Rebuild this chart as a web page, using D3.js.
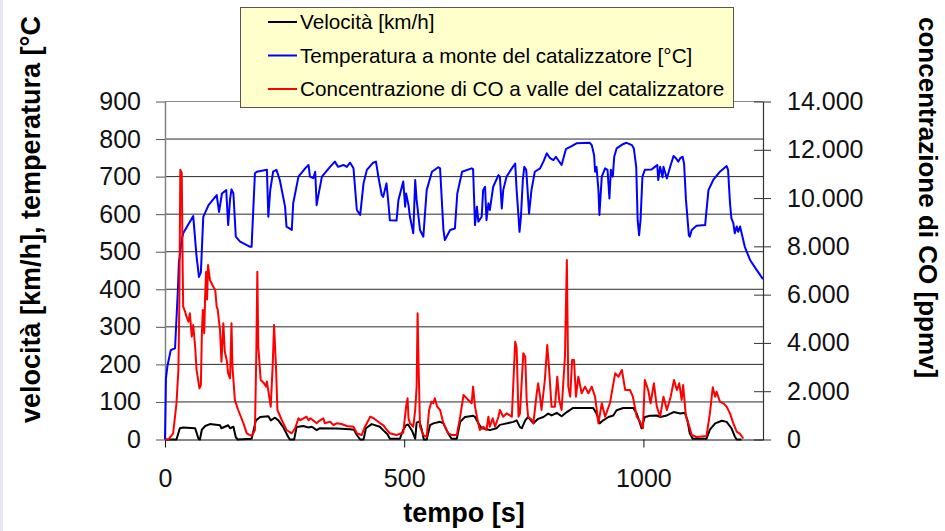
<!DOCTYPE html>
<html>
<head>
<meta charset="utf-8">
<script src="https://cdn.jsdelivr.net/npm/d3@7/dist/d3.min.js"></script>
<style>
  html, body { margin: 0; padding: 0; background: #ffffff; }
  svg { display: block; font-family: "Liberation Sans", Arial, sans-serif; }
</style>
</head>
<body>
<svg id="chart" width="945" height="531"></svg>
<script>
// Tick values
const xTicks = [0, 500, 1000];
const leftTicks = [0, 100, 200, 300, 400, 500, 600, 700, 800, 900];
const rightTicks = [0, 2000, 4000, 6000, 8000, 10000, 12000, 14000];

// Series names
const seriesNames = [
  "Velocità [km/h]",
  "Temperatura a monte del catalizzatore [°C]",
  "Concentrazione di CO a valle del catalizzatore"
];

// Speed [km/h] : [time s, value]
const speed = [
  [0,0],[24,0],[31,30],[38,32],[63,30],[70,2],[73,0],[77,26],[84,36],[94,41],[115,38],[118,30],
  [125,34],[132,38],[136,30],[143,34],[148,6],[152,0],[181,2],[190,51],[199,60],[216,62],[221,51],
  [230,58],[237,51],[247,33],[258,6],[261,0],[270,0],[275,33],[289,36],[300,32],[307,34],[317,25],
  [324,30],[359,29],[387,27],[395,26],[401,12],[408,0],[415,0],[420,30],[432,41],[449,34],[456,25],
  [465,14],[470,2],[491,2],[498,26],[504,38],[508,40],[516,24],[523,2],[526,45],[532,48],[537,25],
  [541,0],[547,0],[554,38],[561,43],[575,47],[582,43],[592,16],[599,2],[610,2],[617,47],[627,60],
  [638,62],[644,63],[648,60],[655,43],[662,30],[672,28],[679,25],[693,30],[700,39],[707,41],
  [718,44],[728,47],[735,51],[742,33],[746,30],[753,51],[759,60],[770,43],[780,55],[791,60],
  [801,69],[808,64],[819,71],[829,62],[840,73],[853,84],[895,84],[902,69],[909,43],[916,51],
  [927,60],[937,64],[944,78],[958,84],[979,84],[986,69],[993,43],[996,30],[1003,60],[1014,63],
  [1028,64],[1035,60],[1049,64],[1063,73],[1077,69],[1087,71],[1092,51],[1097,16],[1103,2],
  [1132,2],[1139,26],[1150,43],[1164,50],[1174,47],[1184,30],[1191,8],[1195,0],[1205,0]
];

// Temperature upstream of the catalyst [°C] : [time s, value]
const temperature = [
  [0,0],[2,163],[5,195],[12,238],[21,243],[27,400],[29,470],[35,532],[38,549],[59,595],[66,487],
  [71,433],[75,445],[80,593],[91,624],[108,651],[113,606],[119,655],[128,664],[132,571],[136,640],
  [139,666],[143,655],[148,540],[157,527],[178,513],[181,513],[188,709],[192,713],[213,718],
  [216,593],[220,664],[226,713],[233,718],[240,691],[251,620],[254,567],[265,558],[268,629],
  [279,700],[293,722],[300,731],[303,700],[310,696],[314,713],[317,624],[320,646],[328,700],
  [345,726],[355,740],[362,726],[373,731],[380,726],[387,737],[394,722],[401,611],[408,598],
  [415,682],[422,718],[435,737],[441,740],[446,700],[453,651],[456,646],[463,682],[467,629],
  [470,584],[484,583],[488,638],[498,687],[502,620],[504,655],[509,624],[512,593],[519,549],
  [523,691],[526,638],[533,558],[540,540],[547,664],[558,713],[571,725],[575,722],[582,558],
  [585,531],[596,558],[606,562],[611,655],[621,713],[641,722],[644,720],[648,571],[652,620],
  [655,580],[662,593],[665,664],[669,673],[672,584],[676,629],[679,611],[686,673],[697,704],
  [700,700],[704,615],[707,664],[714,700],[725,722],[732,735],[735,664],[739,593],[741,553],
  [744,593],[748,691],[751,726],[755,718],[757,682],[761,602],[766,664],[773,713],[784,722],
  [791,740],[798,762],[805,749],[812,744],[817,753],[829,731],[838,773],[850,781],[861,789],
  [888,790],[892,784],[897,757],[899,713],[902,726],[906,664],[908,598],[913,700],[920,722],
  [925,718],[929,642],[932,718],[936,700],[939,753],[944,775],[958,787],[965,790],[976,784],
  [980,775],[985,726],[988,584],[991,544],[994,584],[998,700],[1003,718],[1017,719],[1024,726],
  [1029,731],[1031,691],[1035,726],[1040,698],[1042,726],[1049,695],[1056,726],[1063,755],
  [1068,749],[1073,740],[1077,749],[1082,753],[1085,735],[1089,638],[1095,544],[1097,540],
  [1101,558],[1111,569],[1129,571],[1132,611],[1136,664],[1146,691],[1160,713],[1174,728],
  [1177,718],[1181,629],[1184,589],[1188,576],[1191,549],[1195,567],[1198,553],[1202,567],
  [1212,513],[1223,478],[1237,451],[1250,427]
];

// CO concentration downstream of the catalyst [ppmv] : [time s, value]
const co = [
  [0,0],[7,0],[17,256],[24,1500],[28,2880],[30,5640],[32,11170],[35,11050],[37,7000],[38,5500],
  [42,5293],[45,5087],[49,4880],[52,5227],[56,4258],[59,4743],[63,3844],[66,2879],[72,2120],
  [75,2257],[77,4328],[79,5364],[82,4398],[84,6000],[86,6950],[88,5800],[90,7228],[94,6600],
  [101,6330],[105,6192],[108,5500],[110,5400],[115,4535],[118,3223],[122,4813],[125,3637],
  [129,3293],[132,2742],[136,2534],[139,4813],[141,3016],[146,1636],[153,1222],[164,670],
  [171,256],[181,145],[188,393],[191,3707],[193,6950],[195,3844],[200,2465],[207,2328],
  [211,2190],[213,2400],[221,1360],[225,3016],[228,4743],[232,3016],[235,1222],[244,808],
  [254,393],[265,256],[272,464],[279,878],[283,800],[296,944],[300,800],[304,880],[317,670],
  [321,750],[331,878],[334,670],[345,740],[352,600],[359,670],[369,640],[380,559],[394,530],
  [401,256],[411,186],[418,530],[429,944],[436,880],[450,670],[456,600],[463,422],[470,256],
  [484,186],[498,282],[504,1360],[507,1706],[509,878],[512,670],[519,530],[523,1222],[526,2190],
  [528,5227],[530,3156],[533,530],[540,186],[547,104],[552,1222],[557,1566],[561,1500],
  [564,1706],[569,1360],[575,1222],[582,670],[592,256],[600,186],[610,186],[617,944],[624,1843],
  [634,1636],[641,1500],[644,2190],[648,1360],[652,944],[658,393],[665,530],[672,393],[676,944],
  [679,530],[685,878],[690,530],[697,944],[700,1222],[707,944],[714,1084],[725,944],[732,4051],
  [735,3800],[739,944],[742,1084],[749,3570],[753,3430],[756,1636],[759,944],[767,808],[770,670],
  [777,1913],[780,2328],[784,1773],[787,1222],[794,2465],[799,3914],[803,2879],[808,1360],
  [815,1360],[820,2601],[824,1636],[829,1222],[836,3430],[840,7435],[843,2190],[847,1773],
  [851,3293],[855,3293],[859,1773],[864,2601],[871,1913],[878,2190],[885,1913],[892,2190],
  [899,1773],[906,670],[913,1500],[920,944],[930,1500],[941,2742],[948,2601],[955,2879],
  [962,2050],[972,2050],[978,1773],[986,944],[993,740],[999,464],[1003,2465],[1010,2050],
  [1015,1500],[1022,2328],[1028,1360],[1035,944],[1042,1773],[1049,1222],[1057,1773],[1064,2465],
  [1070,2050],[1075,2328],[1080,1636],[1083,2257],[1089,944],[1094,670],[1101,186],[1111,104],
  [1132,145],[1139,1084],[1145,2162],[1150,1773],[1153,1977],[1160,1566],[1167,1500],[1174,1360],
  [1181,1084],[1188,670],[1195,325],[1202,230],[1209,41]
];

const colors = ["#000000", "#0000ff", "#ff0000"];

const svg = d3.select("#chart");

// Frame strip on the left edge
svg.append("rect").attr("x", 0).attr("y", 0).attr("width", 3).attr("height", 531)
  .attr("fill", "#e6e6f8");

const plot = { left: 165, right: 763, top: 101.5, bottom: 439.5 };

const x = d3.scaleLinear().domain([0, 1250]).range([plot.left, plot.right]);
const yL = d3.scaleLinear().domain([0, 900]).range([plot.bottom, plot.top]);
const yR = d3.scaleLinear().domain([0, 14000]).range([plot.bottom, plot.top]);

const itFormat = d3.formatLocale({ decimal: ",", thousands: ".", grouping: [3], currency: ["€", ""] }).format(",");

// Horizontal gridlines
svg.append("g").selectAll("line")
  .data(leftTicks.filter(d => d > 0))
  .join("line")
  .attr("x1", plot.left).attr("x2", plot.right)
  .attr("y1", d => yL(d)).attr("y2", d => yL(d))
  .attr("stroke", d => d === 900 ? "#8a8a8a" : "#2a2a2a")
  .attr("stroke-width", 1);

// Left axis
const gL = svg.append("g").attr("transform", `translate(${plot.left},0)`)
  .call(d3.axisLeft(yL).tickValues(leftTicks).tickSize(9).tickPadding(15).tickSizeOuter(0));
gL.select(".domain").attr("stroke", "#808080").attr("stroke-width", 1.5);
gL.selectAll(".tick line").attr("stroke", "#555");
gL.selectAll("text").attr("font-size", 25).attr("fill", "#111")
  .attr("font-family", "Liberation Sans, Arial, sans-serif");

// Right axis with crossing ticks
const gR = svg.append("g").attr("transform", `translate(${plot.right},0)`)
  .call(d3.axisRight(yR).tickValues(rightTicks).tickSize(8).tickPadding(16).tickSizeOuter(0).tickFormat(itFormat));
gR.select(".domain").attr("stroke", "#333").attr("stroke-width", 1.2);
gR.selectAll(".tick line").attr("x1", -9).attr("stroke", "#333");
gR.selectAll("text").attr("font-size", 25).attr("fill", "#111")
  .attr("font-family", "Liberation Sans, Arial, sans-serif");

// Bottom axis
const gB = svg.append("g").attr("transform", `translate(0,${plot.bottom})`)
  .call(d3.axisBottom(x).tickValues(xTicks).tickSize(8).tickPadding(22).tickSizeOuter(0).tickFormat(d3.format("d")));
gB.select(".domain").attr("stroke", "#111").attr("stroke-width", 1.2);
gB.selectAll(".tick line").attr("stroke", "#111");
gB.selectAll("text").attr("font-size", 25).attr("fill", "#111")
  .attr("font-family", "Liberation Sans, Arial, sans-serif");

// Series lines
const lineL = d3.line().x(d => x(d[0])).y(d => yL(d[1]));
const lineR = d3.line().x(d => x(d[0])).y(d => yR(d[1]));

svg.append("path").datum(speed).attr("d", lineL)
  .attr("fill", "none").attr("stroke", colors[0]).attr("stroke-width", 2).attr("stroke-linejoin", "round");
svg.append("path").datum(temperature).attr("d", lineL)
  .attr("fill", "none").attr("stroke", colors[1]).attr("stroke-width", 2).attr("stroke-linejoin", "round");
svg.append("path").datum(co).attr("d", lineR)
  .attr("fill", "none").attr("stroke", colors[2]).attr("stroke-width", 2).attr("stroke-linejoin", "round");

// Axis titles
svg.append("text")
  .attr("transform", "translate(40,423) rotate(-90)")
  .attr("font-size", 27).attr("font-weight", "bold").attr("fill", "#000")
  .text("velocità [km/h], temperatura [°C");

svg.append("text")
  .attr("transform", "translate(919,17) rotate(90)")
  .attr("font-size", 26).attr("font-weight", "bold").attr("fill", "#000")
  .text("concentrazione di CO [ppmv]");

svg.append("text")
  .attr("x", (plot.left + plot.right) / 2).attr("y", 522)
  .attr("text-anchor", "middle")
  .attr("font-size", 27).attr("font-weight", "bold").attr("fill", "#000")
  .text("tempo [s]");

// Legend
const legend = svg.append("g");
legend.append("rect")
  .attr("x", 240.5).attr("y", 7.5).attr("width", 493).attr("height", 100)
  .attr("fill", "#ffffcc").attr("stroke", "#555").attr("stroke-width", 1);
const rows = legend.selectAll("g.row").data(seriesNames).join("g")
  .attr("class", "row")
  .attr("transform", (d, i) => `translate(0,${22 + i * 33.5})`);
rows.append("line")
  .attr("x1", 268).attr("x2", 297).attr("y1", 0).attr("y2", 0)
  .attr("stroke", (d, i) => colors[i]).attr("stroke-width", 2);
rows.append("text")
  .attr("x", 300).attr("y", 7)
  .attr("font-size", 20.7).attr("fill", "#000")
  .text(d => d);
</script>
</body>
</html>
